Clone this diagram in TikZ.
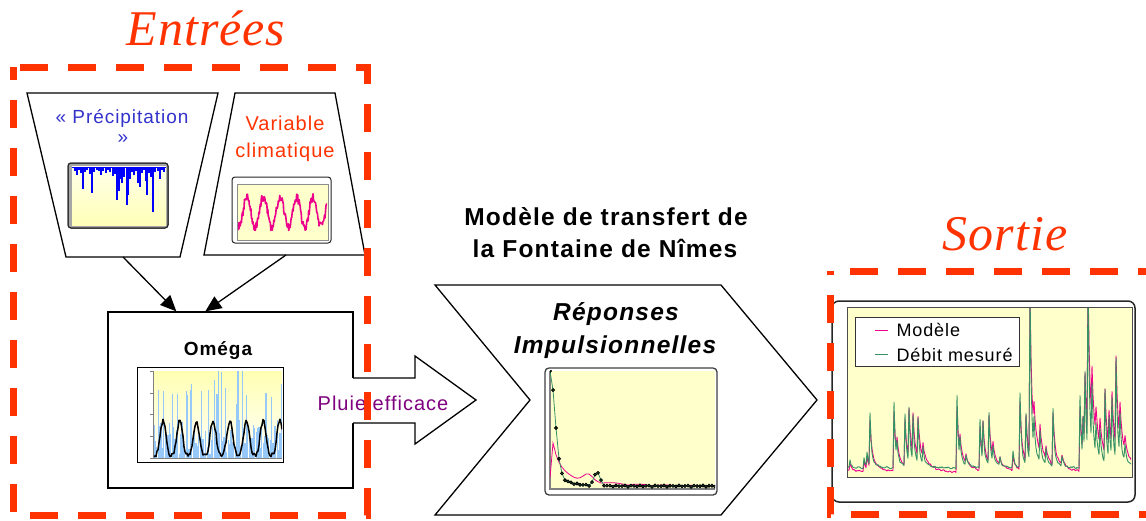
\documentclass[tikz,border=0pt]{standalone}
\usepackage{fontspec}
\setmainfont{Liberation Sans}[LetterSpace=5]
\newfontfamily\zonefont{Liberation Serif}[LetterSpace=2]
\usetikzlibrary{arrows.meta,calc}
\definecolor{signal}{RGB}{255,51,0}
\definecolor{precipblue}{RGB}{51,51,204}
\definecolor{pluiecol}{RGB}{128,0,128}
\definecolor{plotbg}{RGB}{255,255,204}
\definecolor{skyblue}{RGB}{150,200,250}
\definecolor{flowgreen}{RGB}{55,145,100}
\tikzset{
  zonebox/.style={draw=signal, line width=7pt, dash pattern=on 28pt off 20pt},
  inbox/.style={draw, line width=1.3pt, fill=white, line join=miter},
  chartframe/.style={draw=black!85, line width=1pt, rounded corners=3pt, fill=white},
  plotarea/.style={draw=black!45, line width=0.8pt, fill=plotbg},
  flowarrow/.style={-{Triangle[length=16pt,width=14pt]}, line width=1.3pt},
  zonetitle/.style={text=signal, font=\fontsize{50}{54}\zonefont\itshape, anchor=base},
  inlabel/.style={font=\fontsize{19}{23}\selectfont, anchor=base},
  boldlabel/.style={font=\fontsize{24.5}{30}\selectfont\bfseries, anchor=base},
  legendtxt/.style={font=\fontsize{18}{22}\selectfont, anchor=base west},
}
\begin{document}
\begin{tikzpicture}[x=1pt, y=-1pt,
  declare function={
    sp(\x,\a,\h)=(\x>=\a)*\h*(\wf*exp(-min(abs(\x-\a)/\tf,20))+(1-\wf)*exp(-min(abs(\x-\a)/\ts,20)));
    hyd(\x)=sp(\x,838,18)+sp(\x,850,8)+sp(\x,864,10)+sp(\x,867,14)+sp(\x,870,52)+sp(\x,894,66)+sp(\x,897,18)
      +sp(\x,905,52)+sp(\x,909,55)+sp(\x,913,45)+sp(\x,918,45)+sp(\x,923,15)+sp(\x,957,72)+sp(\x,960,20)
      +sp(\x,966,10)+sp(\x,980,48)+sp(\x,983,40)+sp(\x,989,52)+sp(\x,993,15)+sp(\x,1000,8)+sp(\x,1013,17)
      +sp(\x,1020,75)+sp(\x,1026,50)+sp(\x,1030,175)+sp(\x,1034,30)+sp(\x,1040,30)+sp(\x,1046,15)
      +sp(\x,1053,58)+sp(\x,1062,10)+sp(\x,1080,72)+sp(\x,1083,40)+sp(\x,1085,80)+sp(\x,1088,175)
      +sp(\x,1092,60)+sp(\x,1096,30)+sp(\x,1100,30)+sp(\x,1105,72)+sp(\x,1109,40)+sp(\x,1112,60)
      +sp(\x,1116,100)+sp(\x,1120,40)+sp(\x,1125,15);
  }]
  \useasboundingbox (0,0) rectangle (1146,520);

  % precipitation input
  \draw[inbox] (27,93) -- (218,93) -- (180,257) -- (66,257) -- cycle;
  \node[inlabel, text=precipblue] (prec-l1) at (122,123) {« Précipitation};
  \node[inlabel, text=precipblue] (prec-l2) at (123,143) {»};
  \draw[chartframe, fill=black!35] (68,163) rectangle (168,228);
  \shade[top color=yellow!8, bottom color=yellow!28] (72,166) rectangle (166,225);
  \foreach \bx/\bl in {75/4,77/8,79/3,81/6,83/22,85/5,87/3,90/7,92/26,94/5,97/3,99/4,101/8,103/4,
      106/6,108/3,110/5,113/9,115/7,117/33,119/24,120/12,122/16,124/10,127/38,128/28,130/12,132/5,
      134/8,136/4,138/16,140/20,142/6,144/3,146/14,147/28,149/6,151/10,153/45,155/5,158/4,160/12,162/3,164/5}
    \draw[blue, line width=1.3pt] (\bx,167) -- ++(0,\bl);
  \draw[blue, line width=1pt] (72,167) -- (166,167);
  \draw[black!85, line width=1pt, rounded corners=3pt] (68,163) rectangle (168,228);

  % climate input
  \draw[inbox] (235,93) -- (335,93) -- (365,255) -- (204,255) -- cycle;
  \node[inlabel, text=signal, font=\fontsize{20}{24}\selectfont] (clim-l1) at (285,130) {Variable};
  \node[inlabel, text=signal, font=\fontsize{20}{24}\selectfont] (clim-l2) at (285,157) {climatique};
  \draw[chartframe] (232,177) rectangle (331,243);
  \draw[plotarea] (237,184) rectangle (328,240);
  \begin{scope}
    \clip (238,185) rectangle (327,239);
    \pgfmathsetseed{5}
    \draw[magenta, line width=1.6pt, line join=round] plot[domain=238:327, samples=180]
      (\x,{212-15*sin((\x-238)*21.8-106)+9*(rnd-0.5)});
  \end{scope}

  % omega box
  \node[draw, line width=1.3pt, minimum width=245, minimum height=176, inner sep=0, fill=white] (omega) at (230.5,400) {};
  \node[inlabel, font=\fontsize{19}{23}\selectfont\bfseries] (omega-title) at (218,355) {Oméga};
  \draw[fill=white, line width=1pt] (137,367) rectangle (283,462);
  \shade[top color=yellow!30, bottom color=white] (153,371) rectangle (282,458);
  \begin{scope}
    \clip (153,371) rectangle (282,458);
    \pgfmathsetseed{21}
    \foreach \i in {0,...,91} {
      \pgfmathsetmacro\bh{rnd<0.25 ? 50+40*rnd : 3+36*rnd}
      \draw[skyblue, line width=1.1pt] (154+\i*1.4,458) -- ++(0,-\bh);
    }
    \draw[black, line width=1.5pt, line join=round] plot[domain=153:282, samples=130]
      (\x,{457-34*(0.5+0.5*sin((\x-152)*21.56-147))^1.6-4*rnd});
  \end{scope}
  \draw[black!50, line width=0.6pt] (153,371) -- (153,458) -- (282,458);
  \foreach \ty in {371,392.75,...,458} \draw[black!50, line width=0.4pt] (150,\ty) -- (153,\ty);

  \coordinate (precip-out) at (123,257);
  \coordinate (clim-out) at (286,255);
  \draw[flowarrow] (precip-out) -- ($(omega.north west)+(69,0)$);
  \draw[flowarrow] (clim-out) -- ($(omega.north west)+(98,0)$);

  % effective rain arrow
  \fill[white] (351,378) -- (415,378) -- (415,356) -- (476,400) -- (415,444) -- (415,423) -- (351,423) -- cycle;
  \draw[line width=1.3pt, line join=miter] (353,378) -- (415,378) -- (415,356) -- (476,400)
    -- (415,444) -- (415,423) -- (353,423);

  % transfer model
  \draw[inbox] (435,285) -- (721,285) -- (817,400) -- (721,515) -- (435,515) -- (530,400) -- cycle;
  \node[boldlabel] (model-l1) at (606,225) {Modèle de transfert de};
  \node[boldlabel] (model-l2) at (605,257) {la Fontaine de Nîmes};
  \node[boldlabel, font=\fontsize{24.5}{30}\selectfont\bfseries\itshape] (ri-l1) at (616,320) {Réponses};
  \node[boldlabel, font=\fontsize{24.5}{30}\selectfont\bfseries\itshape] (ri-l2) at (615,353) {Impulsionnelles};
  \draw[chartframe, draw=black!75, line width=1.3pt, rounded corners=4pt] (545,368) rectangle (717,495);
  \fill[plotbg] (550,371) rectangle (715,490);
  \draw[black!50, line width=1.5pt] (550,371) -- (550,489) -- (715,489);
  \begin{scope}
    \clip (550,370) rectangle (715,490);
    \draw[magenta, line width=0.8pt, mark=square*, mark size=1pt, mark options={fill=black, draw=black}]
      plot[domain=550:715, samples=56]
      (\x,{487-((\x-550)<1.5)*9-((\x-550)>=1.5)*(33*exp(-(\x-552)/6)+16*exp(-(\x-552)/35))
        -6*exp(-min(((\x-588)/6)^2,20))-1.5*abs(sin((\x-550)*53))});
    \draw[flowgreen, line width=0.8pt, mark=*, mark size=1.5pt, mark options={fill=flowgreen!60!black, draw=black}]
      plot[domain=550:715, samples=56]
      (\x,{487-97*exp(-min(((\x-550)/7)^2,20))-19*exp(-(\x-550)/12)-14*exp(-min(((\x-597)/4)^2,20))-1.5*abs(sin((\x-550)*37))});
  \end{scope}

  % output
  \draw[chartframe, line width=1.5pt, rounded corners=7pt] (832,301) rectangle (1135,502);
  \draw[plotarea, draw=black!70] (847,307) rectangle (1132,477);
  \begin{scope}
    \clip (848,308) rectangle (1131,476);
    \pgfmathsetseed{9}
    \def\wf{0.72}\def\tf{1.6}\def\ts{8}
    \draw[magenta, line width=0.9pt, line join=round] plot[domain=848:1132, samples=285]
      (\x,{473-0.9*hyd(\x)-2*rnd});
    \def\wf{0.86}\def\tf{1.2}\def\ts{6}
    \draw[flowgreen, line width=0.9pt, line join=round] plot[domain=848:1132, samples=285]
      (\x,{469-hyd(\x)-2*rnd});
  \end{scope}
  \node[draw=black!80, fill=white, line width=0.8pt, minimum width=164, minimum height=49, inner sep=0,
    anchor=north west] (legend) at (855,317) {};
  \draw[magenta, line width=1pt] (875,330) -- (888,330);
  \node[legendtxt] (leg-mod) at (893,336) {Modèle};
  \draw[flowgreen, line width=1pt] (875,354) -- (888,354);
  \node[legendtxt] (leg-deb) at (893,361) {Débit mesuré};

  \node[inlabel, text=pluiecol, font=\fontsize{20}{24}\selectfont] (pluie) at (383,410) {Pluie efficace};

  % zones
  \draw[zonebox, dash phase=41pt] (13,67) -- (367,67) -- (367,515) -- (13,515) -- cycle;
  \draw[zonebox, dash phase=28pt] (830,271) -- (1175,271) -- (1175,514) -- (830,514) -- cycle;
  \node[zonetitle] (entrees) at (206,45) {Entrées};
  \node[zonetitle] (sortie) at (1005,250) {Sortie};
\end{tikzpicture}
\end{document}
